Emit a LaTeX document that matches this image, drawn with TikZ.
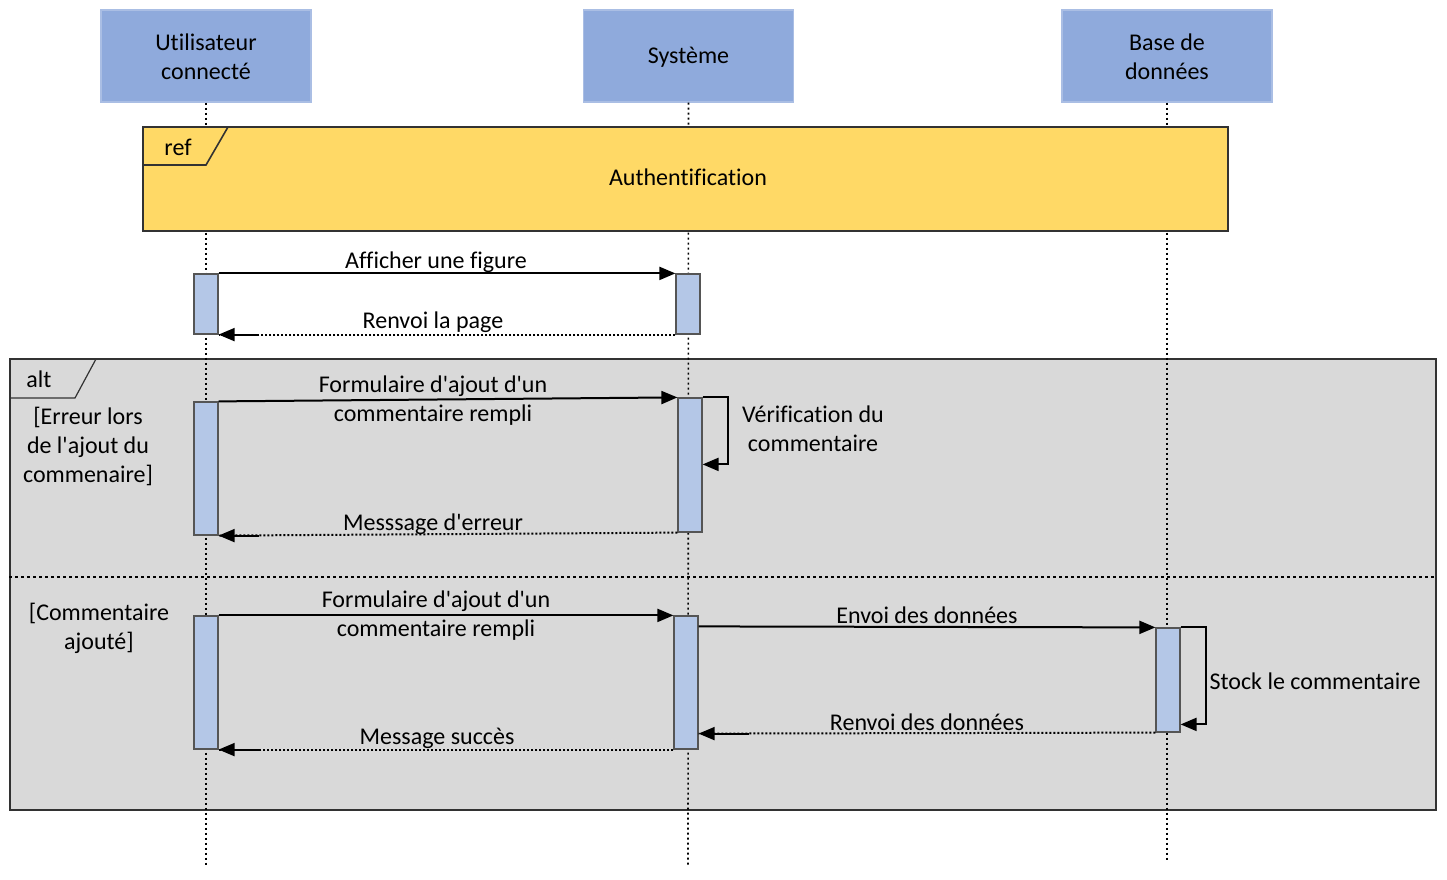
\documentclass[tikz,border=0pt]{standalone}
\usepackage{fontspec}
\setmainfont[Ligatures=NoCommon]{Carlito}
\usetikzlibrary{arrows.meta}
\definecolor{headfill}{RGB}{143,170,220}
\definecolor{headdraw}{RGB}{170,190,228}
\definecolor{actfill}{RGB}{180,199,231}
\definecolor{actdraw}{RGB}{85,85,85}
\definecolor{reffill}{RGB}{255,217,102}
\definecolor{altfill}{RGB}{217,217,217}
\definecolor{framedraw}{RGB}{50,50,50}
\newcommand\apos{\textquotesingle}
\begin{document}
\begin{tikzpicture}[x=0.5pt,y=-0.5pt,
  every node/.style={font=\fontsize{12}{14.5}\selectfont, inner sep=0pt},
  head/.style={draw=headdraw, fill=headfill, line width=0.7pt,
    minimum width=105pt, minimum height=46pt},
  act/.style={draw=actdraw, fill=actfill, line width=0.6pt, minimum width=12pt},
  frame/.style={draw=framedraw, line width=0.6pt},
  lifeline/.style={line width=0.8pt, dash pattern=on 1pt off 1.5pt},
  msg/.style={line width=1pt, -{Triangle[length=8pt,width=6.5pt]}},
  ret/.style={line width=1pt, dash pattern=on 1pt off 1pt},
  lbl/.style={align=center, yshift=-1pt}]
\useasboundingbox (0,0) rectangle (1447,879);

% combined fragment "alt" with its two operands
\node[frame, fill=altfill, minimum width=713pt, minimum height=225.5pt] (alt) at (723,584.5) {};
\draw[frame] (10,398) -- (75,398) -- (96,359);
\node[lbl, anchor=west] (alttag) at (26,377) {alt};
\draw[line width=0.7pt, dash pattern=on 1.5pt off 1.5pt] (alt.west |- 0,577) -- (alt.east |- 0,577);
\node[lbl] (guard1) at (88,444) {[Erreur lors\\de l\apos ajout du\\commenaire]};
\node[lbl] (guard2) at (99,626) {[Commentaire\\ajouté]};

% lifeline heads and lifelines
\node[head] (u) at (206,56) {};
\node[head] (s) at (688.5,56) {};
\node[head] (d) at (1167,56) {};
\node[lbl] (utext) at (206,55) {Utilisateur\\connecté};
\node[lbl] (stext) at (688.5,55) {Système};
\node[lbl] (dtext) at (1167,55) {Base de\\données};
\coordinate (uend) at (206,866);
\coordinate (send) at (688,866);
\coordinate (dend) at (1167,860);
\draw[lifeline] (u.south) -- (uend);
\draw[lifeline] (s.south) -- (send);
\draw[lifeline] (d.south) -- (dend);

% interaction use "ref"
\node[frame, fill=reffill, minimum width=542.5pt, minimum height=52pt] (ref) at (685.5,179) {};
\draw[frame, line width=0.8pt] (143,165) -- (206,165) -- (228,127);
\node[lbl] (reftag) at (178,145) {ref};
\node[lbl] (reftitle) at (688,175) {Authentification};

% activation bars
\node[act, minimum height=30pt] (ua1) at (206,304) {};
\node[act, minimum height=30pt] (sa1) at (688,304) {};
\node[act, minimum height=66.5pt] (ua2) at (206,468.5) {};
\node[act, minimum height=67pt] (sa2) at (690,465) {};
\node[act, minimum height=66.5pt] (ua3) at (206,682.5) {};
\node[act, minimum height=66.5pt] (sa3) at (686,682.5) {};
\node[act, minimum height=52pt] (da3) at (1168,680) {};

% messages
\draw[msg] (ua1.north east) -- (sa1.north west);
\node[lbl] (m1) at (436,260) {Afficher une figure};
\draw[ret] (sa1.south west) -- (ua1.south east);
\draw[msg] ([xshift=20pt]ua1.south east) -- (ua1.south east);
\node[lbl] (m2) at (433,320) {Renvoi la page};

\draw[msg] (ua2.north east) -- (sa2.north west);
\node[lbl] (m3) at (433,399) {Formulaire d\apos ajout d\apos un\\commentaire rempli};
\draw[msg] (sa2.north east) -- ++(25,0) -- ++(0,67) -- ++(-25,0);
\node[lbl] (m4) at (813,427) {Vérification du\\commentaire};
\draw[ret] (sa2.south west) -- (ua2.south east);
\draw[msg] ([xshift=20pt]ua2.south east) -- (ua2.south east);
\node[lbl] (m5) at (433,522) {Messsage d\apos erreur};

\draw[msg] (ua3.north east) -- (sa3.north west);
\node[lbl] (m6) at (436,614) {Formulaire d\apos ajout d\apos un\\commentaire rempli};
\draw[msg] ([yshift=-5.5pt]sa3.north east) -- (da3.north west);
\node[lbl] (m7) at (927,613) {Envoi des données};
\draw[msg] (da3.north east) -- ++(25,0) -- ++(0,97) -- ++(-25,0);
\node[lbl] (m8) at (1315,679) {Stock le commentaire};
\draw[ret] (da3.south west) -- ([yshift=8pt]sa3.south east);
\draw[msg] ([xshift=25pt,yshift=8pt]sa3.south east) -- ([yshift=8pt]sa3.south east);
\node[lbl] (m9) at (927,720) {Renvoi des données};
\draw[ret] (sa3.south west) -- (ua3.south east);
\draw[msg] ([xshift=20pt]ua3.south east) -- (ua3.south east);
\node[lbl] (m10) at (437,736) {Message succès};
\end{tikzpicture}
\end{document}
